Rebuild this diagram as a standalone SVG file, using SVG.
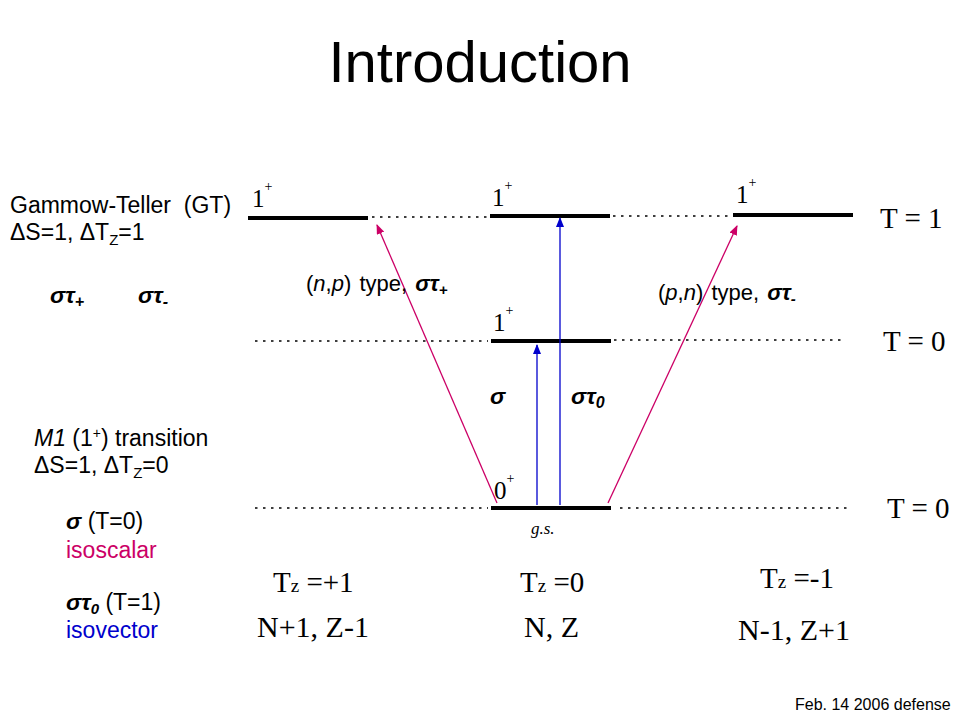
<svg xmlns="http://www.w3.org/2000/svg" width="960" height="720" viewBox="0 0 960 720">
<style>
.sans{font-family:"Liberation Sans",Arial,sans-serif;fill:#000}
.serif{font-family:"Liberation Serif","Times New Roman",serif;fill:#000}
.lvl{stroke:#000;stroke-width:4;fill:none}
.dot{stroke:#000;stroke-width:1.3;stroke-dasharray:2.5 5.5;fill:none}
.mag{stroke:#CC0066;stroke-width:1.3;fill:none}
.blu{stroke:#0000CC;stroke-width:1.3;fill:none}
.bi{font-weight:bold;font-style:italic}
</style>
<defs>
<marker id="am" markerWidth="10" markerHeight="8" refX="9" refY="4" orient="auto" markerUnits="userSpaceOnUse"><path d="M0,0 L10,4 L0,8 z" fill="#CC0066"/></marker>
<marker id="ab" markerWidth="10" markerHeight="8" refX="9" refY="4" orient="auto" markerUnits="userSpaceOnUse"><path d="M0,0 L10,4 L0,8 z" fill="#0000CC"/></marker>
</defs>
<rect width="960" height="720" fill="#fff"/>
<text class="sans" x="480" y="82" font-size="58" text-anchor="middle">Introduction</text>

<g id="levels">
<g id="level-left-T1"><line class="lvl" x1="248" y1="218" x2="368" y2="218"/><text class="serif" x="252" y="207" font-size="25">1<tspan font-size="14" dy="-16">+</tspan></text></g>
<g id="level-mid-T1"><line class="lvl" x1="490" y1="216" x2="610" y2="216"/><text class="serif" x="492" y="206" font-size="25">1<tspan font-size="14" dy="-16">+</tspan></text></g>
<g id="level-right-T1"><line class="lvl" x1="733" y1="215" x2="853" y2="215"/><text class="serif" x="736" y="203" font-size="25">1<tspan font-size="14" dy="-16">+</tspan></text></g>
<g id="level-mid-T0"><line class="lvl" x1="491" y1="341" x2="611" y2="341"/><text class="serif" x="493" y="331" font-size="25">1<tspan font-size="14" dy="-16">+</tspan></text></g>
<g id="level-gs"><line class="lvl" x1="491" y1="508" x2="611" y2="508"/><text class="serif" x="494" y="499" font-size="25">0<tspan font-size="14" dy="-16">+</tspan></text><text class="serif" x="531" y="534" font-size="17" font-style="italic">g.s.</text></g>
</g>

<g id="connectors">
<line class="dot" x1="372" y1="217" x2="488" y2="217"/>
<line class="dot" x1="613" y1="216" x2="731" y2="216"/>
<line class="dot" x1="255" y1="341" x2="488" y2="341"/>
<line class="dot" x1="614" y1="340" x2="845" y2="340"/>
<line class="dot" x1="255" y1="508" x2="488" y2="508"/>
<line class="dot" x1="620" y1="508" x2="850" y2="508"/>
<line class="mag" x1="497" y1="503" x2="377" y2="225" marker-end="url(#am)"/>
<line class="mag" x1="608" y1="503" x2="737" y2="226" marker-end="url(#am)"/>
<line class="blu" x1="537" y1="505" x2="537" y2="345" marker-end="url(#ab)"/>
<line class="blu" x1="560" y1="505" x2="560" y2="218" marker-end="url(#ab)"/>
</g>

<g id="T-labels">
<text class="serif" x="880" y="228" font-size="29">T = 1</text>
<text class="serif" x="883" y="351" font-size="29">T = 0</text>
<text class="serif" x="887" y="518" font-size="29">T = 0</text>
</g>

<g id="transition-labels">
<text class="sans" x="306" y="291" font-size="22" word-spacing="2">(<tspan font-style="italic">n</tspan>,<tspan font-style="italic">p</tspan>) type, <tspan class="bi">στ</tspan><tspan class="bi" font-size="15" dy="4">+</tspan></text>
<text class="sans" x="658" y="300" font-size="22" word-spacing="2">(<tspan font-style="italic">p</tspan>,<tspan font-style="italic">n</tspan>) type, <tspan class="bi">στ</tspan><tspan class="bi" font-size="15" dy="4">-</tspan></text>
<text class="sans bi" x="490" y="404" font-size="23">σ</text>
<text class="sans bi" x="571" y="404" font-size="23">στ<tspan font-size="16" dy="4">0</tspan></text>
</g>

<g id="gt-text">
<text class="sans" x="10" y="213" font-size="23" xml:space="preserve">Gammow-Teller  (GT)</text>
<text class="sans" x="10" y="240" font-size="23">ΔS=1, ΔT<tspan font-size="15" dy="5">Z</tspan><tspan dy="-5">=1</tspan></text>
<text class="sans bi" x="50" y="303" font-size="23">στ<tspan font-size="16" dy="4">+</tspan></text>
<text class="sans bi" x="138" y="303" font-size="23">στ<tspan font-size="16" dy="4">-</tspan></text>
</g>

<g id="m1-text">
<text class="sans" x="34" y="446" font-size="23"><tspan font-style="italic">M1</tspan> (1<tspan font-size="14" dy="-8">+</tspan><tspan dy="8">) transition</tspan></text>
<text class="sans" x="34" y="473" font-size="23">ΔS=1, ΔT<tspan font-size="15" dy="5">Z</tspan><tspan dy="-5">=0</tspan></text>
<text class="sans" x="66" y="529" font-size="23"><tspan class="bi">σ</tspan> (T=0)</text>
<text class="sans" x="66" y="558" font-size="23" style="fill:#CC0066">isoscalar</text>
<text class="sans" x="66" y="610" font-size="23"><tspan class="bi">στ</tspan><tspan class="bi" font-size="15" dy="4">0</tspan><tspan dy="-4"> (T=1)</tspan></text>
<text class="sans" x="66" y="638" font-size="23" style="fill:#0000CC">isovector</text>
</g>

<g id="bottom-labels">
<text class="serif" x="273" y="592" font-size="29">T<tspan font-size="19">z</tspan> =+1</text>
<text class="serif" x="520" y="592" font-size="29">T<tspan font-size="19">z</tspan> =0</text>
<text class="serif" x="760" y="588" font-size="29">T<tspan font-size="19">z</tspan> =-1</text>
<text class="serif" x="257" y="637" font-size="30">N+1, Z-1</text>
<text class="serif" x="524" y="637" font-size="30">N, Z</text>
<text class="serif" x="738" y="640" font-size="30">N-1, Z+1</text>
</g>

<text class="sans" x="795" y="710" font-size="16">Feb. 14 2006 defense</text>
</svg>
